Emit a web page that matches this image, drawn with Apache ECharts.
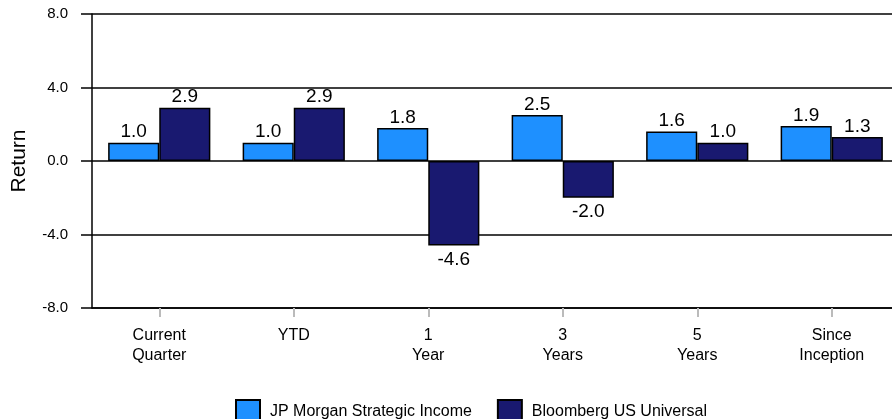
<!DOCTYPE html>
<html>
<head>
<meta charset="utf-8">
<script src="https://cdn.jsdelivr.net/npm/echarts@6/dist/echarts.min.js"></script>
<style>
  html, body { margin: 0; padding: 0; background: #fff; }
  #chart { width: 892px; height: 419px; }
</style>
</head>
<body>
<div id="chart"></div>
<script>
const categories = ['Current\nQuarter', 'YTD', '1\nYear', '3\nYears', '5\nYears', 'Since\nInception']
const jpMorgan = [1.0, 1.0, 1.8, 2.5, 1.6, 1.9]
const bloomberg = [2.9, 2.9, -4.6, -2.0, 1.0, 1.3]
const seriesNames = ['JP Morgan Strategic Income', 'Bloomberg US Universal']

const font = 'Liberation Sans, Arial, sans-serif'

function barLabel () {
  return {
    show: true,
    position: 'top',
    distance: 1,
    color: '#000',
    fontSize: 19,
    fontFamily: font,
    formatter: p => p.value.toFixed(1)
  }
}

function makeSeries (name, data, color) {
  return {
    name: name,
    type: 'bar',
    data: data.map(v => ({
      value: v,
      label: v < 0 ? Object.assign(barLabel(), { position: 'bottom', distance: 5 }) : barLabel()
    })),
    barGap: '0%',
    barCategoryGap: '24%',
    itemStyle: { color: color, borderColor: '#000', borderWidth: 1.5 },
    label: barLabel()
  }
}

const chart = echarts.init(document.getElementById('chart'))
const option = {
  animation: false,
  textStyle: { fontFamily: font },
  grid: {
    left: 92,
    right: -7,
    top: 14,
    bottom: 111,
    containLabel: false,
    outerBoundsMode: 'none'
  },
  legend: {
    data: seriesNames,
    top: 394,
    left: 230,
    icon: 'rect',
    itemWidth: 24,
    itemHeight: 23,
    itemGap: 25,
    textStyle: { fontSize: 16, color: '#000', fontFamily: font, padding: [0, 0, 0, 5] }
  },
  xAxis: {
    type: 'category',
    data: categories,
    axisLine: { onZero: false, lineStyle: { color: '#000', width: 1.5 } },
    axisTick: { show: true, alignWithLabel: true, length: 9, lineStyle: { color: '#bbb', width: 2 } },
    axisLabel: { color: '#000', fontSize: 16, lineHeight: 20, margin: 18, fontFamily: font }
  },
  yAxis: {
    type: 'value',
    name: 'Return',
    nameLocation: 'middle',
    nameGap: 62,
    nameTextStyle: { fontSize: 21, color: '#000', fontFamily: font },
    min: -8,
    max: 8,
    interval: 4,
    axisLine: { show: true, lineStyle: { color: '#000', width: 1.5 } },
    axisTick: { show: true, length: 11, lineStyle: { color: '#000', width: 1.5 } },
    axisLabel: { color: '#000', fontSize: 15, margin: 24, fontFamily: font, formatter: v => v.toFixed(1) },
    splitLine: { lineStyle: { color: '#000', width: 1.5 } }
  },
  series: [
    makeSeries(seriesNames[0], jpMorgan, '#1E90FF'),
    makeSeries(seriesNames[1], bloomberg, '#191970')
  ]
}
chart.setOption(option)
window.addEventListener('resize', () => chart.resize())
</script>
</body>
</html>
